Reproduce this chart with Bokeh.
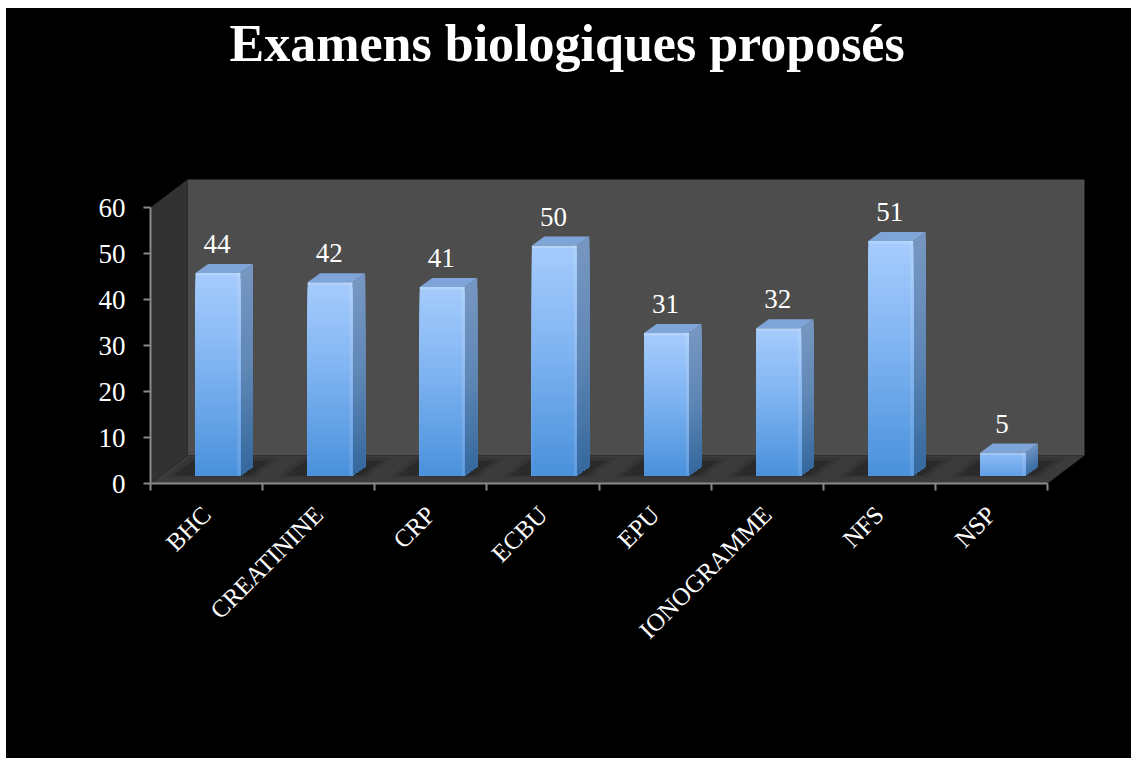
from bokeh.plotting import figure
from bokeh.embed import file_html
from bokeh.resources import INLINE
from bokeh.models import Range1d, LinearAxis, FixedTicker, ColumnDataSource
from bokeh.core.properties import value
import math

TITLE = "Examens biologiques proposés"
categories = ["BHC", "CREATININE", "CRP", "ECBU", "EPU", "IONOGRAMME", "NFS", "NSP"]
counts = [44, 42, 41, 50, 31, 32, 51, 5]
y_ticks = [0, 10, 20, 30, 40, 50, 60]

FONT = "Liberation Serif"
W, H = 1125, 750
ML, MR, MT, MB = 144, 46, 63, 275
PXX = 112.125
PXY = 4.6
fx = (W - ML - MR) / PXX
fy = (H - MT - MB) / PXY
dx = lambda px: px / PXX
dy = lambda px: px / PXY

p = figure(width=W, height=H, output_backend="svg", toolbar_location=None,
           x_range=Range1d(0, fx), y_range=Range1d(0, fy),
           x_axis_type=None, y_axis_type=None,
           background_fill_color="black", border_fill_color="black",
           outline_line_color=None, min_border_left=ML, min_border_right=MR,
           min_border_top=MT, min_border_bottom=MB)
p.styles = {"margin-left": "6px", "margin-top": "8px", "background-color": "black"}
p.grid.visible = False

p.title.text = TITLE
p.title.text_color = "white"
p.title.text_font = FONT
p.title.text_font_size = "52px"
p.title.text_font_style = "bold"
p.title.align = "left"
p.title.offset = 79
p.title.standoff = 0

# walls
n = len(categories)
ox, oy = dx(37), dy(28)
top = y_ticks[-1]
p.quad(left=ox, right=n + ox, bottom=oy, top=top + oy, fill_color="#4d4d4d", line_color=None)
p.patch([0, ox, ox, 0], [0, oy, top + oy, top], fill_color="#323232", line_color=None)
p.patch([0, ox, n + ox, n], [0, oy, oy, 0], fill_color="#3b3b3b", line_color=None)


def mix(a, b, t):
    ca = [int(a[i:i + 2], 16) for i in (1, 3, 5)]
    cb = [int(b[i:i + 2], 16) for i in (1, 3, 5)]
    return "#%02x%02x%02x" % tuple(round(u + (v - u) * t) for u, v in zip(ca, cb))


def grad(stops, t):
    for (t0, c0), (t1, c1) in zip(stops, stops[1:]):
        if t <= t1:
            return mix(c0, c1, (t - t0) / (t1 - t0))
    return stops[-1][1]


FRONT = [(0, "#a6ccfc"), (0.45, "#80b4f2"), (1, "#4a91db")]
SIDE = [(0, "#7797c2"), (0.5, "#5f87b5"), (1, "#35699e")]
TOPC = "#7fa5d8"

bar_off, bar_w, base = dx(45), dx(45), dy(8)
dep_x, dep_y = dx(12.5), dy(9)

# floor shadows
for i in range(n):
    l = i + bar_off
    p.patch([l - dx(30), l - dx(6), l + bar_w + dx(40), l + bar_w + dx(14)],
            [base - dy(2), base + dy(18), base + dy(18), base - dy(2)],
            fill_color="#2b2b2b", fill_alpha=0.35, line_color=None)
    p.patch([l - dx(22), l - dx(2), l + bar_w + dx(30), l + bar_w + dx(10)],
            [base, base + dy(15), base + dy(15), base],
            fill_color="#232323", fill_alpha=0.6, line_color=None)

# bars: overlapping gradient bands, painted from top to bottom
BANDS = 40
fl, fr, fb, ft, fc = [], [], [], [], []
sx, sy, sc = [], [], []
for i, v in enumerate(counts):
    l, r = i + bar_off, i + bar_off + bar_w
    b0, t0 = base, base + v
    f_stops = FRONT
    s_stops = SIDE
    if v < 10:
        f_stops = [(0, "#8fbdf6"), (1, "#629fe6")]
        s_stops = [(0, "#6f93c0"), (1, "#3a6fa5")]
    for k in range(BANDS):
        tk = (k + 0.5) / BANDS
        ya = t0 - (t0 - b0) * k / BANDS
        fl.append(l); fr.append(r); ft.append(ya); fb.append(b0)
        fc.append(grad(f_stops, tk))
        sx.append([r, r + dep_x, r + dep_x, r])
        sy.append([ya, ya + dep_y, b0 + dep_y, b0])
        sc.append(grad(s_stops, tk))
p.patches(sx, sy, fill_color=sc, line_color=None)
p.quad(left=fl, right=fr, top=ft, bottom=fb, fill_color=fc, line_color=None)
p.patches([[i + bar_off, i + bar_off + dep_x, i + bar_off + bar_w + dep_x, i + bar_off + bar_w]
           for i in range(n)],
          [[base + v, base + v + dep_y, base + v + dep_y, base + v] for v in counts],
          fill_color=TOPC, line_color=None)

# bevel highlights on the front faces
p.quad(left=[i + bar_off for i in range(n)], right=[i + bar_off + bar_w for i in range(n)],
       top=[base + v for v in counts], bottom=[base + v - dy(2.5) for v in counts],
       fill_color="white", fill_alpha=0.18, line_color=None)
p.quad(left=[i + bar_off + bar_w - dx(3) for i in range(n)],
       right=[i + bar_off + bar_w for i in range(n)],
       top=[base + v for v in counts], bottom=[base] * n,
       fill_color="white", fill_alpha=0.12, line_color=None)

# value labels
src = ColumnDataSource(dict(x=[i + bar_off + bar_w / 2 - dx(1) for i in range(n)],
                            y=[base + v + dy(20) for v in counts],
                            t=[str(v) for v in counts]))
p.text("x", "y", text="t", source=src, text_color="white", text_font=value(FONT),
       text_font_size="27px", text_align="center", text_baseline="bottom")

# axes
GREY = "#8a8a8a"
yax = LinearAxis(ticker=FixedTicker(ticks=y_ticks), bounds=(0, top),
                 axis_line_color=GREY, axis_line_width=2,
                 major_tick_line_color=GREY, major_tick_line_width=2,
                 major_tick_in=0, major_tick_out=7, minor_tick_line_color=None,
                 major_label_text_color="white", major_label_text_font=FONT,
                 major_label_text_font_size="27px", major_label_standoff=18)
p.add_layout(yax, "left")
centres = [i + 0.5 for i in range(n)]
xax = LinearAxis(ticker=FixedTicker(ticks=centres, minor_ticks=list(range(n + 1))),
                 bounds=(0, n), axis_line_color=GREY, axis_line_width=2,
                 major_tick_line_color=None, minor_tick_line_color=GREY,
                 minor_tick_line_width=2, minor_tick_in=0, minor_tick_out=7,
                 major_label_overrides={c: t for c, t in zip(centres, categories)},
                 major_label_orientation=math.pi / 4,
                 major_label_text_color="white", major_label_text_font=FONT,
                 major_label_text_font_size="25px", major_label_standoff=20)
p.add_layout(xax, "below")

open("out.html", "w").write(file_html(p, INLINE))
